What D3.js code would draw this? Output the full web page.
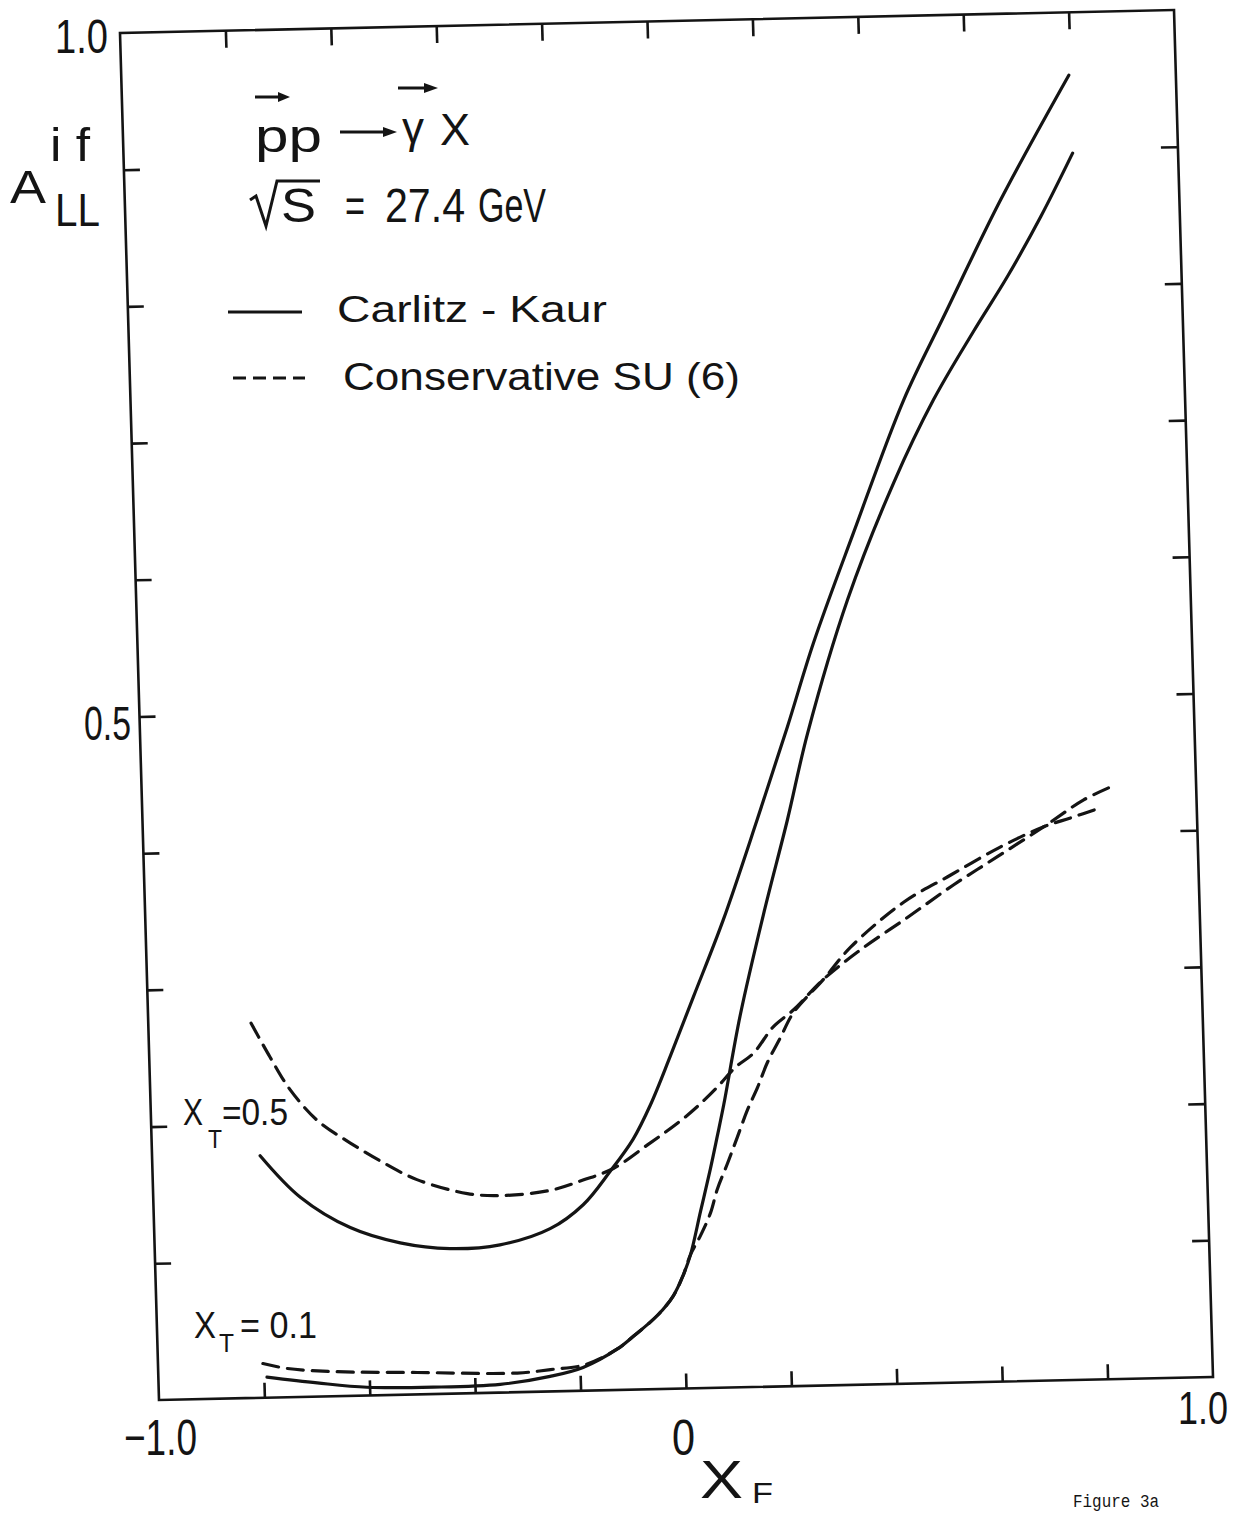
<!DOCTYPE html>
<html><head><meta charset="utf-8">
<script src="https://cdn.jsdelivr.net/npm/d3@7"></script>
<style>
body{margin:0;background:#fff}
text{font-family:"Liberation Sans","DejaVu Sans",sans-serif;fill:#141414}
</style>
</head><body>
<svg id="c" width="1243" height="1513"></svg>
<script>
// ---- axis ticks ----
const xTicks = [-0.8,-0.6,-0.4,-0.2,0,0.2,0.4,0.6,0.8];
const yTicks = [0.1,0.2,0.3,0.4,0.5,0.6,0.7,0.8,0.9];
const xTickLabels = [{v:-1,t:"\u22121.0"},{v:0,t:"0"},{v:1,t:"1.0"}];
const yTickLabels = [{v:1,t:"1.0"},{v:0.5,t:"0.5"}];

// ---- Carlitz-Kaur, x_T = 0.5 (solid) ----
const ck05x = [-0.795,-0.721,-0.628,-0.534,-0.440,-0.345,-0.249,-0.185,-0.132,-0.087,-0.052,-0.012,0.035,0.096,0.166,0.228,0.282,0.364,0.466,0.546,0.661,0.797];
const ck05y = [0.177,0.146,0.123,0.111,0.106,0.108,0.119,0.136,0.160,0.183,0.208,0.243,0.286,0.342,0.415,0.482,0.543,0.623,0.719,0.779,0.864,0.954];
// ---- Carlitz-Kaur, x_T = 0.1 (solid) ----
const ck01x = [-0.794,-0.699,-0.605,-0.479,-0.352,-0.257,-0.194,-0.128,-0.097,-0.050,-0.019,0.001,0.016,0.037,0.058,0.073,0.087,0.123,0.173,0.223,0.266,0.349,0.443,0.523,0.602,0.670,0.736,0.800];
const ck01y = [0.015,0.010,0.006,0.005,0.006,0.011,0.017,0.030,0.039,0.054,0.068,0.083,0.098,0.129,0.160,0.184,0.207,0.272,0.346,0.414,0.477,0.574,0.659,0.719,0.768,0.808,0.851,0.897];
// ---- Conservative SU(6), x_T = 0.5 (dashed) ----
const su05x = [-0.805,-0.771,-0.735,-0.685,-0.624,-0.562,-0.499,-0.404,-0.342,-0.247,-0.184,-0.126,-0.055,-0.002,0.037,0.076,0.111,0.146,0.185,0.224,0.283,0.355,0.446,0.535,0.620,0.709,0.786,0.844];
const su05y = [0.274,0.249,0.225,0.202,0.185,0.170,0.157,0.146,0.144,0.147,0.154,0.162,0.180,0.194,0.206,0.220,0.234,0.244,0.263,0.275,0.297,0.318,0.341,0.364,0.384,0.405,0.424,0.434];
// ---- Conservative SU(6), x_T = 0.1 (dashed) ----
const su01x = [-0.801,-0.755,-0.668,-0.509,-0.319,-0.256,-0.190,-0.128,-0.097,-0.050,-0.019,0.001,0.016,0.035,0.056,0.070,0.091,0.111,0.132,0.152,0.172,0.198,0.224,0.283,0.336,0.439,0.529,0.626,0.709,0.760,0.818];
const su01y = [0.025,0.021,0.018,0.016,0.014,0.016,0.019,0.030,0.039,0.054,0.068,0.083,0.098,0.111,0.128,0.145,0.164,0.183,0.203,0.219,0.237,0.255,0.273,0.297,0.320,0.352,0.371,0.391,0.405,0.411,0.418];

const seriesNames = ["Carlitz - Kaur","Conservative SU (6)"];

const svg = d3.select("#c");
svg.append("rect").attr("width",1243).attr("height",1513).attr("fill","#fff");

const W = 1054, H = 1367;
const x = d3.scaleLinear().domain([-1,1]).range([0,W]);
const y = d3.scaleLinear().domain([0,1]).range([H,0]);
const ink = "#141414";

// the scanned frame is slightly skewed: reproduce with an affine transform
const g = svg.append("g").attr("transform","matrix(1,-0.02182,0.02853,1,120,33)");

g.append("rect").attr("width",W).attr("height",H)
  .attr("fill","none").attr("stroke",ink).attr("stroke-width",2.6);

function styleAxis(sel){
  sel.select(".domain").remove();
  sel.selectAll(".tick line").attr("stroke",ink).attr("stroke-width",2.6);
  sel.selectAll(".tick text").remove();
}
g.append("g").attr("transform",`translate(0,${H})`)
  .call(d3.axisBottom(x).tickValues(xTicks).tickSize(-15).tickFormat("")).call(styleAxis);
g.append("g")
  .call(d3.axisTop(x).tickValues(xTicks).tickSize(-17).tickFormat("")).call(styleAxis);
g.append("g")
  .call(d3.axisLeft(y).tickValues(yTicks).tickSize(-16).tickFormat("")).call(styleAxis);
g.append("g").attr("transform",`translate(${W},0)`)
  .call(d3.axisRight(y).tickValues(yTicks).tickSize(-17).tickFormat("")).call(styleAxis);

const line = d3.line().x(d=>x(d[0])).y(d=>y(d[1])).curve(d3.curveCatmullRom.alpha(0.5));
const curves = [
  {xs:ck05x, ys:ck05y, dash:null},
  {xs:ck01x, ys:ck01y, dash:null},
  {xs:su05x, ys:su05y, dash:"16,9"},
  {xs:su01x, ys:su01y, dash:"16,9"}
];
curves.forEach(c=>{
  g.append("path").datum(d3.zip(c.xs,c.ys)).attr("d",line)
    .attr("fill","none").attr("stroke",ink).attr("stroke-width",3.2)
    .attr("stroke-linecap","round")
    .attr("stroke-dasharray",c.dash);
});

// ---- text helper ----
function txt(s,xp,yp,fs,len,extra){
  const t = svg.append("text").attr("x",xp).attr("y",yp).attr("font-size",fs).text(s);
  if(len){ t.attr("textLength",len).attr("lengthAdjust","spacingAndGlyphs"); }
  if(extra) extra(t);
  return t;
}

// tick labels
txt(yTickLabels[0].t,55,53,48,53);
txt(yTickLabels[1].t,84,740,48,47);
txt(xTickLabels[0].t,124,1455,50,73);
txt(xTickLabels[1].t,672,1455,50,23);
txt(xTickLabels[2].t,1178,1424,46,50);

// axis titles
txt("X",700,1498,54,43);
txt("F",752,1503,30,21);
txt("A",10,203,46,36);
txt("LL",55,226,46,45);
txt("i f",50,161,46,40);

// process
txt("pp",255,152,46,67);
txt("\u03B3",402,143,44,22);
txt("X",440,145,44,30);
function arrow(x1,x2,yy,head){
  svg.append("line").attr("x1",x1).attr("x2",x2-head).attr("y1",yy).attr("y2",yy)
    .attr("stroke",ink).attr("stroke-width",3);
  svg.append("path").attr("d",`M${x2},${yy} L${x2-head},${yy-5} L${x2-head},${yy+5} Z`).attr("fill",ink);
}
arrow(255,290,97,12);
arrow(340,397,132,14);
arrow(398,438,88,14);

// sqrt(s)
svg.append("path").attr("d","M250,200 L256,196 L266,226 L277,181 L320,181")
  .attr("fill","none").attr("stroke",ink).attr("stroke-width",3);
txt("S",281,222,48,35);
txt("=",345,222,48,20);
txt("27.4",385,222,48,80);
txt("GeV",478,222,48,68);

// legend
svg.append("line").attr("x1",228).attr("x2",302).attr("y1",312).attr("y2",312)
  .attr("stroke",ink).attr("stroke-width",3);
txt(seriesNames[0],337,322,36,270);
svg.append("line").attr("x1",233).attr("x2",305).attr("y1",378).attr("y2",378)
  .attr("stroke",ink).attr("stroke-width",3).attr("stroke-dasharray","13,7");
txt(seriesNames[1],343,390,38,397);

// curve labels
txt("X",183,1125,36,20);
txt("T",208,1148,26,14);
txt("=0.5",222,1125,36,66);
txt("X",194,1338,36,22);
txt("T",219,1352,26,15);
txt("= 0.1",240,1338,36,77);

// caption
txt("Figure 3a",1073,1507,18,86,t=>t.style("font-family","'Liberation Mono','DejaVu Sans Mono',monospace"));
</script>
</body></html>
